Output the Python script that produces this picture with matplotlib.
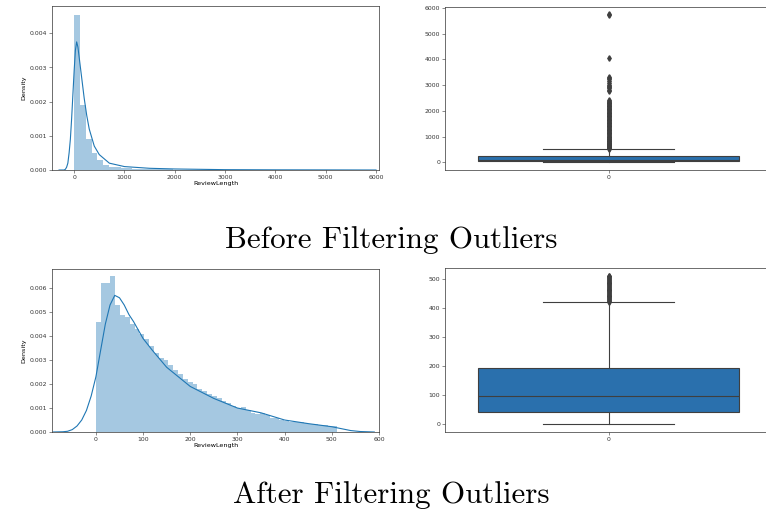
import matplotlib
matplotlib.use("Agg")
import matplotlib.pyplot as plt
import numpy as np

# ---- data ----
# before filtering: histogram (density) of ReviewLength, 50 bins over 0..5800
before_range = (0, 5800)
before_hist = [0.00455, 0.0019, 0.0009, 0.0005, 0.00028, 0.00016, 0.0001, 0.00008, 0.00006, 0.00005,
               0.00004, 0.000035, 0.00003, 0.000025, 0.00002, 0.000018, 0.000015, 0.000012, 0.00001, 0.00001,
               0.000008, 0.000006, 0.000005, 0.000004, 0.000004, 0.000003, 0.000003, 0.000002, 0.000002, 0.000002,
               0.000002, 0.000002, 0.000001, 0.000001, 0.000001, 0.000001, 0.000001, 0.000001, 0.000001, 0.000001,
               0.000001, 0.000001, 0.000001, 0.000001, 0.000001, 0.000001, 0.000001, 0.000001, 0.000001, 0.000001]
before_kde_x = [-300, -200, -175, -150, -125, -100, -75, -50, -25, 0, 25, 50, 75, 100, 150, 200,
                250, 300, 400, 500, 700, 1000, 1500, 2000, 3000, 4000, 5000, 6000]
before_kde_y = [0, 0, 0.00002, 0.00008, 0.0002, 0.0005, 0.0009, 0.0015, 0.0022, 0.0029, 0.0035,
                0.00375, 0.0036, 0.0033, 0.0027, 0.0021, 0.0016, 0.0012, 0.0007, 0.00045, 0.0002,
                0.0001, 0.00005, 0.00003, 0.00001, 0.000005, 0.000003, 0]

# before filtering: box plot stats
before_box = dict(whislo=0, q1=45, med=100, q3=235, whishi=520)
before_fliers = [530, 545, 560, 575, 590, 605, 620, 640, 660, 680, 700, 720, 740, 760, 785, 810,
                 835, 860, 885, 910, 940, 970, 1000, 1030, 1060, 1090, 1120, 1150, 1180, 1210,
                 1240, 1270, 1300, 1330, 1360, 1390, 1420, 1450, 1480, 1510, 1540, 1570, 1600,
                 1630, 1660, 1690, 1720, 1750, 1780, 1810, 1840, 1870, 1900, 1930, 1960, 1990,
                 2020, 2050, 2080, 2110, 2140, 2170, 2200, 2230, 2260, 2290, 2320, 2350, 2380,
                 2400, 2780, 2820, 2870, 2920, 2970, 3020, 3080, 3150, 3220, 3280, 3330, 4050,
                 5700, 5760]

# after filtering: histogram, 50 bins over 0..512
after_range = (0, 512)
after_hist = [0.0046, 0.0062, 0.0062, 0.0065, 0.0053, 0.0049, 0.0048, 0.0045, 0.0043, 0.0041,
              0.0039, 0.0036, 0.0033, 0.0031, 0.0030, 0.0028, 0.0026, 0.0024, 0.0022, 0.0021,
              0.0020, 0.0018, 0.0017, 0.0016, 0.0015, 0.0014, 0.0013, 0.0012, 0.0011, 0.0010,
              0.00105, 0.0009, 0.0008, 0.00075, 0.0008, 0.0007, 0.0006, 0.00058, 0.00052, 0.00045,
              0.0004, 0.00042, 0.0004, 0.00038, 0.00035, 0.00033, 0.0003, 0.00028, 0.00025, 0.00025]
after_kde_x = [-90, -70, -60, -50, -40, -30, -20, -10, 0, 10, 20, 30, 40, 50, 60, 70, 80, 100,
               120, 150, 200, 250, 300, 350, 400, 450, 500, 520, 540, 560, 590]
after_kde_y = [0.0, 0.00001, 0.00003, 0.0001, 0.00025, 0.0005, 0.0009, 0.0015, 0.0023, 0.0034,
               0.0045, 0.0053, 0.0057, 0.0056, 0.0053, 0.0049, 0.0046, 0.0039, 0.0034, 0.0027,
               0.0019, 0.0014, 0.0010, 0.0008, 0.0005, 0.00035, 0.00022, 0.00014, 0.00006,
               0.00002, 0.0]

after_box = dict(whislo=0, q1=43, med=98, q3=193, whishi=420)
after_fliers = [421, 424, 427, 430, 433, 436, 439, 442, 445, 448, 451, 454, 457, 460, 463, 466,
                469, 472, 475, 478, 481, 484, 487, 490, 493, 496, 499, 502, 505, 508, 511]

captions = ["Before Filtering Outliers", "After Filtering Outliers"]

# ---- styling ----
blue = "#1f77b4"
box_blue = "#2a70ad"
line_gray = "#3f3f3f"
tick_fs = 4.4

W, H = 766, 522
fig = plt.figure(figsize=(W / 100, H / 100), dpi=100)


def px_axes(left, top, right, bottom):
    return fig.add_axes([left / W, 1 - bottom / H, (right - left) / W, (bottom - top) / H])


def style(ax):
    for s in ax.spines.values():
        s.set_linewidth(0.5)
        s.set_color("#333333")
    ax.tick_params(labelsize=tick_fs, length=2, width=0.4, pad=1.5, colors="#333333")


def dist(ax, rng, hist, kx, ky, xlim, ylim, xticks, yticks):
    edges = np.linspace(rng[0], rng[1], len(hist) + 1)
    ax.bar(edges[:-1], hist, width=np.diff(edges), align="edge", color=blue, alpha=0.4, linewidth=0)
    ax.plot(kx, ky, color=blue, lw=0.8)
    ax.set_xlim(*xlim)
    ax.set_ylim(*ylim)
    ax.set_xticks(xticks)
    ax.set_yticks(yticks)
    ax.set_yticklabels(["%.3f" % t for t in yticks])
    ax.set_xlabel("ReviewLength", fontsize=4.6, labelpad=1)
    ax.set_ylabel("Density", fontsize=4.6, labelpad=2)
    style(ax)


def box(ax, stats, fliers, ylim, yticks):
    st = dict(stats)
    st["fliers"] = fliers
    ax.bxp([st], positions=[0], widths=0.8, patch_artist=True, showfliers=True,
           boxprops=dict(facecolor=box_blue, edgecolor=line_gray, linewidth=0.8),
           medianprops=dict(color=line_gray, linewidth=0.8),
           whiskerprops=dict(color=line_gray, linewidth=0.8),
           capprops=dict(color=line_gray, linewidth=0.8),
           flierprops=dict(marker="d", markersize=2.8, markerfacecolor=line_gray,
                           markeredgecolor=line_gray, linestyle="none"))
    ax.set_xlim(-0.5, 0.5)
    ax.set_ylim(*ylim)
    ax.set_xticks([0])
    ax.set_xticklabels(["0"])
    ax.set_yticks(yticks)
    style(ax)


ax1 = px_axes(52, 6, 379, 170)
dist(ax1, before_range, before_hist, before_kde_x, before_kde_y,
     (-440, 6060), (0, 0.0048), range(0, 6001, 1000), [0, 0.001, 0.002, 0.003, 0.004])

ax2 = px_axes(445, 7, 772, 170)
box(ax2, before_box, before_fliers, (-300, 6030), range(0, 6001, 1000))

ax3 = px_axes(52, 269, 379, 432)
dist(ax3, after_range, after_hist, after_kde_x, after_kde_y,
     (-93, 597), (0, 0.0068), range(0, 601, 100),
     [0, 0.001, 0.002, 0.003, 0.004, 0.005, 0.006])

ax4 = px_axes(445, 268, 772, 432)
box(ax4, after_box, after_fliers, (-27, 537), range(0, 501, 100))

fig.text(391 / W, 1 - 248 / H, captions[0], family="cmr10", fontsize=22.3, ha="center", va="baseline")
fig.text(391 / W, 1 - 503 / H, captions[1], family="cmr10", fontsize=22.3, ha="center", va="baseline")

fig.savefig("out.png", dpi=100)
